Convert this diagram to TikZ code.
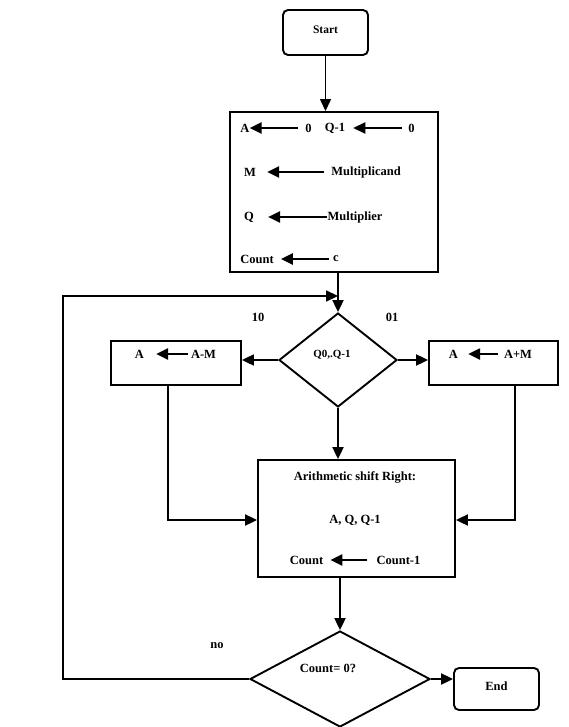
\documentclass[tikz,border=0pt]{standalone}
\usepackage{fontspec}
\setmainfont{Liberation Serif}
\usetikzlibrary{shapes.geometric,arrows.meta}
\begin{document}
\begin{tikzpicture}[x=1pt,y=-1pt,
  every node/.style={font=\bfseries\fontsize{12.5}{14}\selectfont},
  box/.style={draw,line width=1.9pt,rectangle,inner sep=0pt},
  term/.style={box,rounded corners=5pt},
  dec/.style={draw,line width=1.9pt,diamond,inner sep=0pt},
  txt/.style={inner sep=0pt},
  conn/.style={line width=2.1pt,-{Triangle[length=12pt,width=11pt]}},
  inarr/.style={line width=2.4pt,-{Triangle[length=12pt,width=11pt]}}]
\useasboundingbox (0,0) rectangle (569,727);
% terminals
\node[term,minimum width=85pt,minimum height=45pt,font=\bfseries\fontsize{11.5}{13}\selectfont] (start) at (325.5,32.5) {\raisebox{6pt}{Start}};
\node[term,minimum width=85pt,minimum height=42pt] (end) at (496.5,689) {\raisebox{6pt}{End}};
% init box
\node[box,minimum width=208pt,minimum height=160pt] (init) at (334,192) {};
\node[txt] (a1) at (245,128) {A};
\node[txt] (z1) at (308.5,128) {0};
\node[txt] (q1) at (335,128) {Q-1};
\node[txt] (z2) at (411.5,128) {0};
\node[txt] (m) at (250,172) {M};
\node[txt] (mc) at (366,172) {Multiplicand};
\node[txt] (q) at (249,217) {Q};
\node[txt] (mp) at (355,217) {Multiplier};
\node[txt] (cnt) at (257,259) {Count};
\node[txt] (c) at (336,259) {c};
\draw[inarr,shorten <=7pt] (z1.west) -- (a1.east);
\draw[inarr,shorten <=6pt,shorten >=8pt] (z2.west) -- (q1.east);
\draw[inarr,shorten <=7pt,shorten >=11pt] (mc.west) -- (m.east);
\draw[inarr,shorten >=14pt] (mp.west) -- (q.east);
\draw[inarr,shorten <=4pt,shorten >=7pt] (c.west) -- (cnt.east);
% first decision
\node[dec,minimum width=118pt,minimum height=94pt] (d1) at (338,360) {};
\node[txt,font=\bfseries\fontsize{11}{12}\selectfont] (d1t) at (332,355) {Q0,.Q-1};
\node[txt] (l10) at (258,317) {10};
\node[txt] (l01) at (392,317) {01};
% side boxes
\node[box,minimum width=130pt,minimum height=44pt] (lb) at (176,363) {};
\node[txt] (la) at (139.5,354) {A};
\node[txt] (lam) at (203.5,354) {A-M};
\draw[inarr,shorten <=3pt,shorten >=12pt] (lam.west) -- (la.east);
\node[box,minimum width=129pt,minimum height=44pt] (rb) at (493.5,363) {};
\node[txt] (ra) at (453.5,354) {A};
\node[txt] (rap) at (518,354) {A+M};
\draw[inarr,shorten <=6pt,shorten >=10pt] (rap.west) -- (ra.east);
% shift box
\node[box,minimum width=197pt,minimum height=117pt] (sh) at (356.5,518.5) {};
\node[txt] (sht) at (355,477) {Arithmetic shift Right:};
\node[txt] (aqq) at (355,520) {A, Q, Q-1};
\node[txt] (sc) at (306.5,560) {Count};
\node[txt] (sc1) at (398.5,560) {Count-1};
\draw[inarr,shorten <=9pt,shorten >=7pt] (sc1.west) -- (sc.east);
% second decision
\node[dec,minimum width=180pt,minimum height=96pt] (d2) at (340,679) {};
\node[txt] (d2t) at (328,668) {Count= 0?};
\node[txt] (no) at (217,646) {no};
% connectors
\coordinate (lc) at (63,679);
\coordinate (lt) at (63,296);
\coordinate (lbd) at (168,520);
\coordinate (rbd) at (515,520);
\draw[conn,line width=1.3pt] (start.south) -- (start.south |- init.north);
\draw[conn] (d1.north |- init.south) -- (d1.north);
\draw[conn] (d2.west) -- (lc) -- (lt) -- (d1.north |- lt);
\draw[conn] (d1.west) -- (lb.east |- d1.west);
\draw[conn] (d1.east) -- (rb.west |- d1.east);
\draw[conn] (d1.south) -- (d1.south |- sh.north);
\draw[conn] (lbd |- lb.south) -- (lbd) -- (sh.west |- lbd);
\draw[conn] (rbd |- rb.south) -- (rbd) -- (sh.east |- rbd);
\draw[conn] (sh.south -| d2.north) -- (d2.north);
\draw[conn] (d2.east) -- (end.west |- d2.east);
\end{tikzpicture}
\end{document}
